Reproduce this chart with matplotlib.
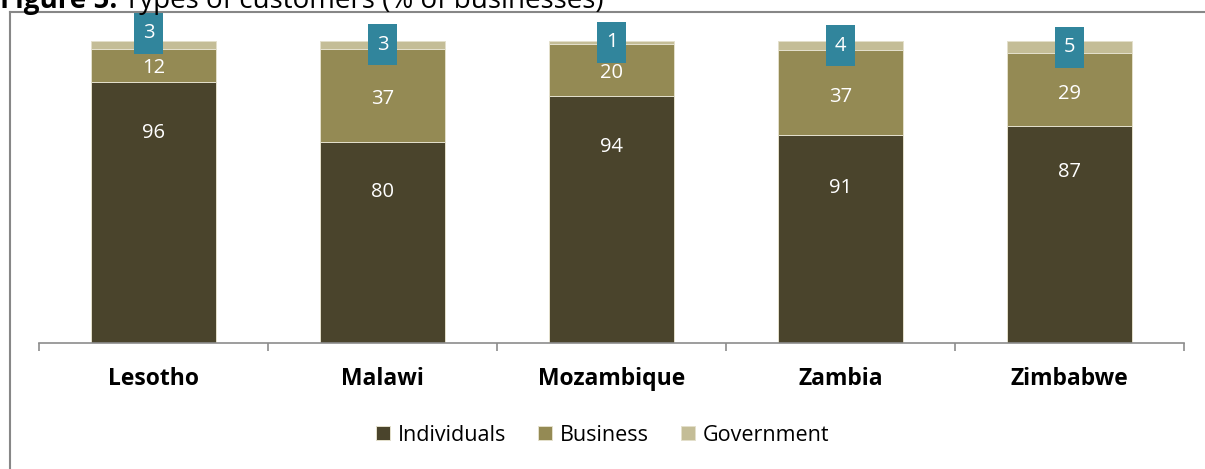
import numpy as np
import matplotlib
matplotlib.use("Agg")
import matplotlib.pyplot as plt
from matplotlib.patches import Rectangle
from matplotlib.lines import Line2D
from matplotlib.transforms import ScaledTranslation

plt.rcParams["font.family"] = ["Open Sans", "DejaVu Sans"]

countries = ["Lesotho", "Malawi", "Mozambique", "Zambia", "Zimbabwe"]
individuals = [96, 80, 94, 91, 87]
business = [12, 37, 20, 37, 29]
government = [3, 3, 1, 4, 5]

series_names = ["Individuals", "Business", "Government"]
colors = ["#4A442C", "#948A54", "#C4BD97"]
box_color = "#31859C"

# label nudges (px, relative to segment centre; positive = up)
ind_label_shift = [79, 50, 73, 51, 62]
bus_label_shift = [-3, -4, -3, -5, -4]
gov_box_shift = [(-5, 12), (0, 0), (0, 0), (0, 0), (0, 0)]

W, H = 1205, 469
fig = plt.figure(figsize=(W / 100, H / 100), dpi=100)
ax = fig.add_axes([39 / W, (H - 343) / H, 1145 / W, 302 / H])

data = np.array([individuals, business, government], dtype=float)
shares = data / data.sum(axis=0)
x = np.arange(len(countries))
bottom = np.zeros(len(countries))
segs = []
for i, name in enumerate(series_names):
    ax.bar(x, shares[i], 0.55, bottom=bottom, color=colors[i],
           edgecolor="#E4E0CC", linewidth=0.7, label=name)
    segs.append(bottom + shares[i] / 2)
    bottom = bottom + shares[i]

for j in range(len(countries)):
    ax.annotate(str(individuals[j]), (x[j], segs[0][j]),
                xytext=(0, ind_label_shift[j] * 0.72), textcoords="offset points",
                ha="center", va="center", color="white", fontsize=14.5)
    ax.annotate(str(business[j]), (x[j], segs[1][j]),
                xytext=(0, bus_label_shift[j] * 0.72), textcoords="offset points",
                ha="center", va="center", color="white", fontsize=14.5)
    dx, dy = gov_box_shift[j]
    trans = fig.dpi_scale_trans + ScaledTranslation(x[j], segs[2][j], ax.transData)
    cx, cy = dx / 100, dy / 100
    ax.add_patch(Rectangle((cx - 0.145, cy - 0.205), 0.29, 0.41, transform=trans,
                           facecolor=box_color, edgecolor="none", clip_on=False, zorder=5))
    ax.text(cx, cy, str(government[j]), transform=trans, ha="center", va="center",
            color="white", fontsize=14.5, zorder=6)

ax.set_xlim(-0.5, len(countries) - 0.5)
ax.set_ylim(0, 1)
for s in ["top", "right", "left"]:
    ax.spines[s].set_visible(False)
ax.spines["bottom"].set_color("#8C8C8C")
ax.spines["bottom"].set_linewidth(1.2)
ax.set_yticks([])
ax.set_xticks(x)
ax.set_xticklabels(countries, fontsize=16.5, fontweight="bold")
ax.tick_params(axis="x", which="major", length=0, pad=17)
ax.set_xticks(np.arange(len(countries) + 1) - 0.5, minor=True)
ax.tick_params(axis="x", which="minor", length=6, width=1.2, color="#8C8C8C")

ax.legend(loc="center", bbox_to_anchor=(0.5, (H - 435) / H), bbox_transform=fig.transFigure,
          ncol=3, frameon=False, fontsize=15.5, handlelength=0.65, handleheight=0.65,
          handletextpad=0.35, columnspacing=1.5)

# outer chart frame
fig.add_artist(Line2D([10 / W, 10 / W], [0, (H - 12) / H], color="#878787", lw=1.5))
fig.add_artist(Line2D([10 / W, 1], [(H - 12) / H, (H - 12) / H], color="#878787", lw=1.5))

# title, mostly cut off at the top edge
t1 = fig.text(0, (H - 8) / H, "Figure 5:", fontsize=20, fontweight="bold", va="baseline")
fig.canvas.draw()
bb = t1.get_window_extent()
fig.text(bb.x1 / W + 7 / W, (H - 8) / H, "Types of customers (% of businesses)",
         fontsize=20, va="baseline")

fig.savefig("out.png", dpi=100)
